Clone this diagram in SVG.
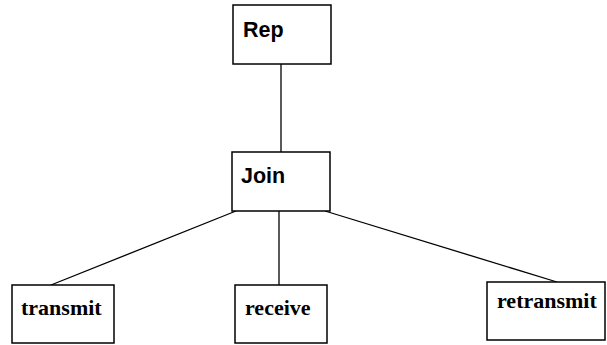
<svg xmlns="http://www.w3.org/2000/svg" width="607" height="345" viewBox="0 0 607 345">
<style>
.box{fill:#fff;stroke:#000;stroke-width:1.5}
line{stroke:#000;stroke-width:1.3}
.s{font-family:"Liberation Sans",Arial,sans-serif;font-weight:bold;font-size:21.5px}
.t{font-family:"Liberation Serif","Times New Roman",serif;font-weight:bold;font-size:22px}
</style>
<rect width="607" height="345" fill="#fff"/>
<g id="connectors">
<line x1="281" y1="64" x2="281" y2="152"/>
<line x1="236" y1="211" x2="51" y2="285"/>
<line x1="279" y1="211" x2="279" y2="285"/>
<line x1="325" y1="211" x2="557" y2="282"/>
</g>
<g id="rep"><rect class="box" x="233" y="5" width="98" height="59"/><text class="s" x="243" y="37">Rep</text></g>
<g id="join"><rect class="box" x="232" y="152" width="98" height="59"/><text class="s" x="241" y="183">Join</text></g>
<g id="transmit"><rect class="box" x="12" y="285" width="102" height="58"/><text class="t" x="21" y="315">transmit</text></g>
<g id="receive"><rect class="box" x="235" y="285" width="92" height="58"/><text class="t" x="245" y="315">receive</text></g>
<g id="retransmit"><rect class="box" x="487" y="282" width="118" height="58"/><text class="t" x="497" y="308">retransmit</text></g>
</svg>
